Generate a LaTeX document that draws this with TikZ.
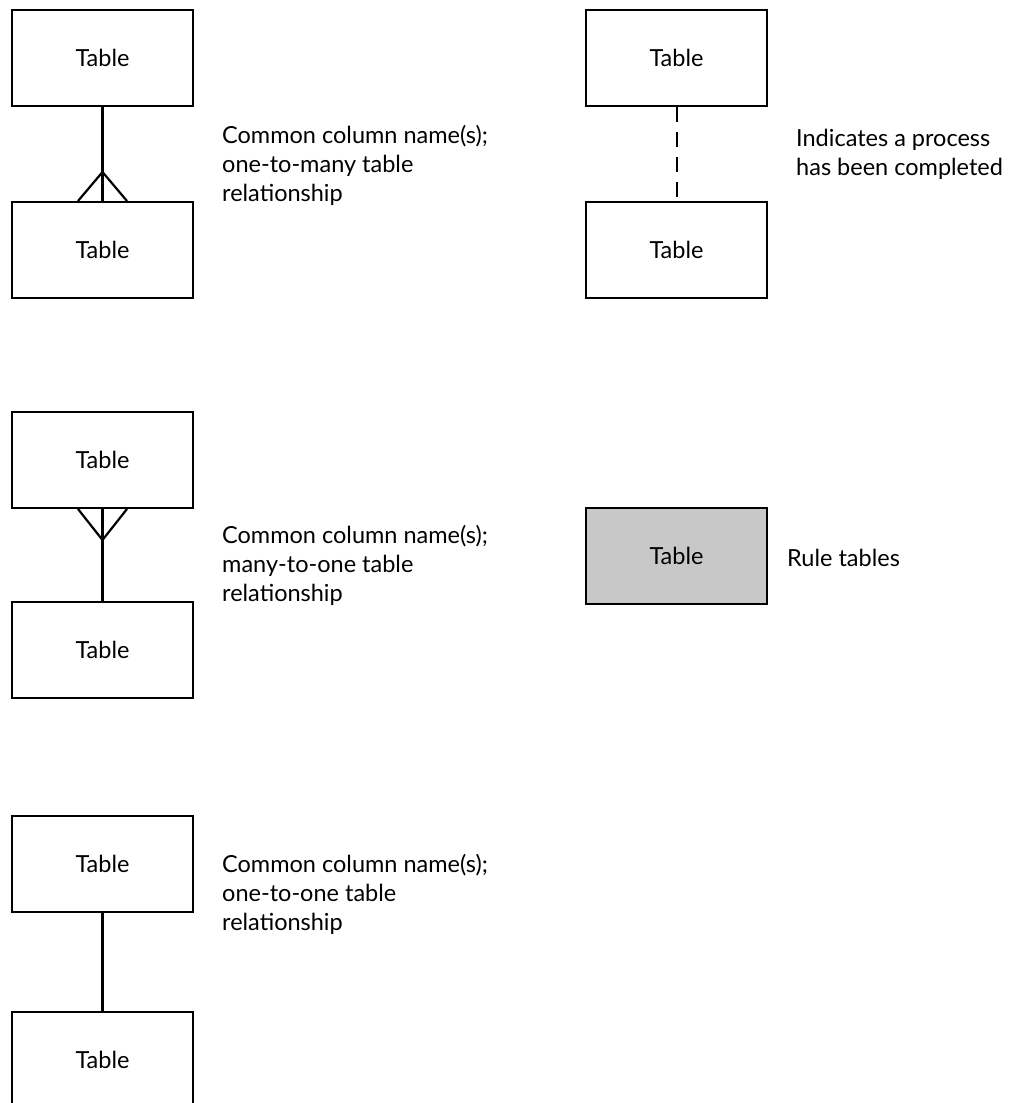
\documentclass[tikz,border=0pt]{standalone}
\usepackage{fontspec}
\setmainfont{Lato}
\usetikzlibrary{calc}
\begin{document}
\begin{tikzpicture}[x=1pt,y=-1pt,
  tbl/.style={draw=black,line width=2pt,minimum width=181pt,minimum height=96pt,
    inner sep=0pt,font=\fontsize{23.5}{29}\selectfont},
  rule/.style={tbl,fill=ruleGray},
  note/.style={anchor=west,align=left,inner sep=0pt,font=\fontsize{23.5}{29}\selectfont},
  link/.style={line width=2.2pt},
  dashlink/.style={line width=2pt,dash pattern=on 15pt off 10pt}]
\definecolor{ruleGray}{HTML}{C8C8C8}
\useasboundingbox (0,0) rectangle (1016,1103);
\clip (0,0) rectangle (1016,1103);

% one-to-many
\node[tbl] (a1) at (102.5,58) {Table};
\node[tbl] (a2) at (102.5,250) {Table};
\draw[link] (a1.south) -- (a2.north);
\coordinate (a2l) at ($(a2.north)+(-24.5,0)$);
\coordinate (a2r) at ($(a2.north)+(24.5,0)$);
\coordinate (a2t) at ($(a2.north)+(0,-29)$);
\draw[link] (a2l) -- (a2t) -- (a2r);
\node[note] (n1) at (222,165) {Common column name(s);\\one-to-many table\\relationship};

% many-to-one
\node[tbl] (b1) at (102.5,460) {Table};
\node[tbl] (b2) at (102.5,650) {Table};
\draw[link] (b1.south) -- (b2.north);
\coordinate (b1l) at ($(b1.south)+(-24.5,0)$);
\coordinate (b1r) at ($(b1.south)+(24.5,0)$);
\coordinate (b1t) at ($(b1.south)+(0,31)$);
\draw[link] (b1l) -- (b1t) -- (b1r);
\node[note] (n2) at (222,565) {Common column name(s);\\many-to-one table\\relationship};

% one-to-one
\node[tbl] (c1) at (102.5,864) {Table};
\node[tbl] (c2) at (102.5,1060) {Table};
\draw[link] (c1.south) -- (c2.north);
\node[note] (n3) at (222,894) {Common column name(s);\\one-to-one table\\relationship};

% completed process
\node[tbl] (d1) at (676.5,58) {Table};
\node[tbl] (d2) at (676.5,250) {Table};
\draw[dashlink] (d1.south) -- (d2.north);
\node[note] (n4) at (796,154) {Indicates a process\\has been completed};

% rule tables
\node[rule] (e1) at (676.5,556) {Table};
\node[note] (n5) at (787,558) {Rule tables};
\end{tikzpicture}
\end{document}
